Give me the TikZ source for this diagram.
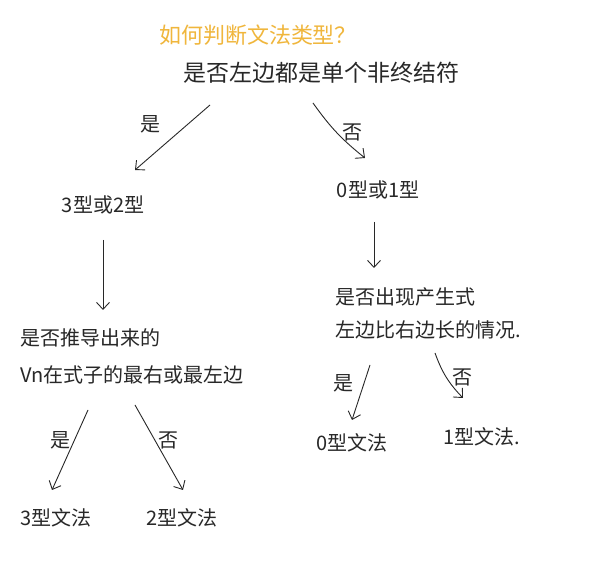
\documentclass[tikz,border=0pt]{standalone}
\usepackage{fontspec}
\setmainfont{Noto Sans CJK SC}
\usetikzlibrary{arrows.meta}
\definecolor{ink}{RGB}{40,40,40}
\definecolor{titlecol}{RGB}{240,182,60}
\tikzset{
  txt/.style={inner sep=0pt, text=ink, font=\fontsize{20}{37}\selectfont},
  lab/.style={inner sep=0pt, text=ink, font=\fontsize{20}{22}\selectfont},
  arr/.style={draw=ink, line width=0.9pt, -{Straight Barb[length=7pt,width=13pt]}},
}
\begin{document}
\begin{tikzpicture}[x=1pt,y=-1pt]
\useasboundingbox[fill=white] (0,0) rectangle (606,569);
\node[inner sep=0pt, text=titlecol, font=\fontsize{22}{24}\selectfont] (title) at (258,35) {如何判断文法类型？};
\node[txt, font=\fontsize{23}{24}\selectfont] (q1) at (321,73) {是否左边都是单个非终结符};
\node[txt] (a) at (103,205) {3型或2型};
\node[txt] (b) at (378,190) {0型或1型};
\node[txt, anchor=west, align=left] (q2) at (20,356) {是否推导出来的\\Vn在式子的最右或最左边};
\node[txt, anchor=west, align=left, font=\fontsize{20}{33}\selectfont] (q3) at (335,313) {是否出现产生式\\左边比右边长的情况.};
\node[txt] (r1) at (56,518) {3型文法};
\node[txt] (r2) at (182,518) {2型文法};
\node[txt] (r3) at (352,443) {0型文法};
\node[txt] (r4) at (482,437) {1型文法.};
% labels
\node[lab] (l1) at (150,124) {是};
\node[lab] (l2) at (352,132) {否};
\node[lab] (l3) at (60,440) {是};
\node[lab] (l4) at (168,440) {否};
\node[lab] (l5) at (343,383) {是};
\node[lab] (l6) at (462,377) {否};
% connectors
\draw[arr] ([xshift=-111pt,yshift=-32pt]q1.center) -- ([xshift=32pt,yshift=35pt]a.center);
\draw[arr] ([xshift=-8pt,yshift=-30pt]q1.center) to[bend right=8] ([xshift=-13pt,yshift=32pt]b.center);
\draw[arr] ([yshift=-35pt]a.center) -- ([xshift=83pt,yshift=46pt]q2.west);
\draw[arr] ([xshift=-4pt,yshift=-32pt]b.center) -- ([xshift=39pt,yshift=45pt]q3.west);
\draw[arr] ([xshift=68pt,yshift=-54pt]q2.west) -- ([xshift=-4pt,yshift=28pt]r1.center);
\draw[arr] ([xshift=115pt,yshift=-49pt]q2.west) -- ([xshift=1pt,yshift=28pt]r2.center);
\draw[arr] ([xshift=35pt,yshift=-52pt]q3.west) -- ([yshift=23pt]r3.center);
\draw[arr] ([xshift=100pt,yshift=-40pt]q3.west) to[bend right=12] ([xshift=-19pt,yshift=39pt]r4.center);
\end{tikzpicture}
\end{document}
